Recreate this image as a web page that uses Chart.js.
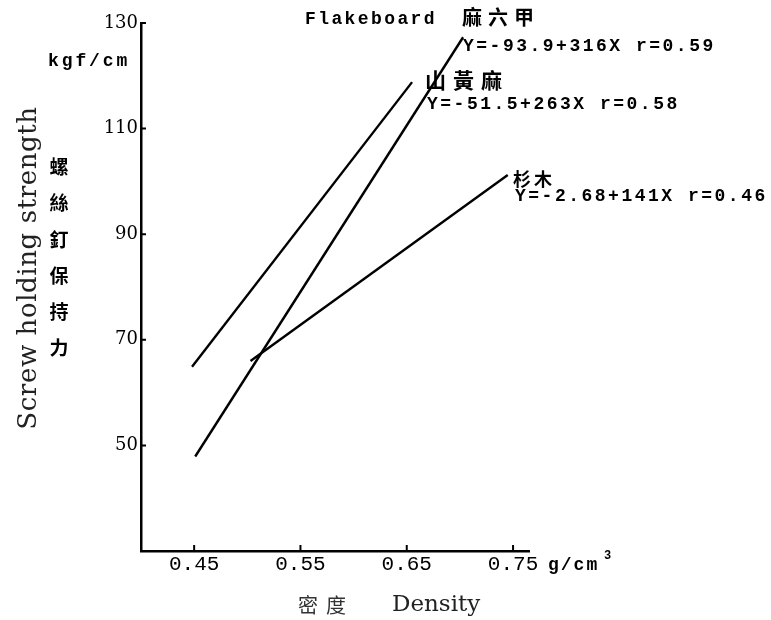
<!DOCTYPE html>
<html><head><meta charset="utf-8">
<script src="https://cdn.jsdelivr.net/npm/chart.js@4.4.1/dist/chart.umd.min.js"></script>
<style>html,body{margin:0;padding:0;background:#fff}#wrap{width:771px;height:620px;position:relative}</style>
</head><body><div id="wrap"><canvas id="c" width="771" height="620"></canvas></div>
<script>
// ---- data ----
const seriesNames = ['麻六甲', '山黃麻', '杉木'];
const malaccaX = [0.451, 0.703];   // 麻六甲
const malaccaY = [47.9, 127.3];
const tremaX = [0.448, 0.655];     // 山黃麻
const tremaY = [64.9, 118.8];
const firX = [0.503, 0.745];       // 杉木
const firY = [66.0, 101.2];
const equations = ['Y=-93.9+316X r=0.59', 'Y=-51.5+263X r=0.58', 'Y=-2.68+141X r=0.46'];
const xTicks = [0.45, 0.55, 0.65, 0.75];
const yTicks = [50, 70, 90, 110, 130];
const yTitleEn = 'Screw holding strength';
const yTitleZh = '螺絲釘保持力';
const yUnit = 'kgf/cm';
const xTitleZh = '密度';
const xTitleEn = 'Density';
const xUnit = 'g/cm';
const header = 'Flakeboard';

const pts = (xs, ys) => xs.map((x, i) => ({x, y: ys[i]}));
const CJK = '"Noto Sans CJK TC","Noto Sans CJK SC",sans-serif';
const MONO = '"Liberation Mono","DejaVu Sans Mono",monospace';
const SERIF = '"DejaVu Serif","Liberation Serif",serif';

function txt(ctx, s, x, y, font, spacing, align, color) {
  ctx.save();
  ctx.font = font;
  ctx.fillStyle = color || '#000';
  try { ctx.letterSpacing = (spacing || 0) + 'px'; } catch (e) {}
  ctx.textAlign = align || 'left';
  ctx.textBaseline = 'middle';
  ctx.fillText(s, x, y);
  ctx.restore();
}

const decor = {
  id: 'decor',
  afterDraw(chart) {
    const ctx = chart.ctx;
    const a = chart.chartArea;
    const xs = chart.scales.x, ys = chart.scales.y;
    // inner tick marks
    ctx.save();
    ctx.strokeStyle = '#000';
    ctx.lineWidth = 2;
    ctx.beginPath();
    yTicks.forEach(v => { const p = ys.getPixelForValue(v); ctx.moveTo(a.left, p); ctx.lineTo(a.left + 5, p); });
    xTicks.forEach(v => { const p = xs.getPixelForValue(v); ctx.moveTo(p, a.bottom); ctx.lineTo(p, a.bottom - 6); });
    ctx.stroke();
    ctx.restore();

    const eqFont = 'bold 18px ' + MONO;
    // header
    txt(ctx, header, 305, 19, eqFont, 2.4);
    txt(ctx, seriesNames[0], 462, 17, 'bold 20px ' + CJK, 6);
    txt(ctx, equations[0], 463, 46, eqFont, 2.5);
    txt(ctx, seriesNames[1], 425, 80, 'bold 21px ' + CJK, 7);
    txt(ctx, equations[1], 427, 104, eqFont, 2.5);
    txt(ctx, seriesNames[2], 513, 179, 'bold 18px ' + CJK, 3);
    txt(ctx, equations[2], 515, 196, eqFont, 2.5);

    // y axis unit and titles
    txt(ctx, yUnit, 48, 61, eqFont, 2.9);
    ctx.save();
    ctx.translate(29, 268);
    ctx.rotate(-Math.PI / 2);
    txt(ctx, yTitleEn, 0, 0, '26px ' + SERIF, 0.6, 'center', '#222');
    ctx.restore();
    [...yTitleZh].forEach((ch, i) => txt(ctx, ch, 59, 167 + i * 36.2, 'bold 19px ' + CJK, 0, 'center'));

    // x axis unit and title
    txt(ctx, xUnit, 548, 565, eqFont, 2);
    txt(ctx, '3', 604, 556, 'bold 12px ' + MONO, 0);
    txt(ctx, xTitleZh, 298, 605, '20px ' + CJK, 8, 'left', '#333');
    txt(ctx, xTitleEn, 392, 605, '23px ' + SERIF, 0, 'left', '#222');
  }
};

const lineDs = (label, data) => ({
  label, data, showLine: true, borderColor: '#000', borderWidth: 2.4,
  pointRadius: 0, fill: false, tension: 0, clip: false
});

new Chart(document.getElementById('c'), {
  type: 'scatter',
  data: {
    datasets: [
      lineDs(seriesNames[0], pts(malaccaX, malaccaY)),
      lineDs(seriesNames[1], pts(tremaX, tremaY)),
      lineDs(seriesNames[2], pts(firX, firY))
    ]
  },
  options: {
    responsive: false,
    animation: false,
    devicePixelRatio: 1,
    layout: { padding: { left: 0, right: 242, top: 23, bottom: 0 } },
    plugins: { legend: { display: false }, tooltip: { enabled: false } },
    scales: {
      x: {
        type: 'linear', min: 0.40, max: 0.765,
        afterBuildTicks: s => { s.ticks = xTicks.map(v => ({value: v})); },
        afterFit: s => { s.height = 69; },
        ticks: { color: '#000', padding: 1, font: { family: MONO, size: 21 }, callback: v => v.toFixed(2) },
        grid: { display: true, color: 'rgba(0,0,0,0)', drawOnChartArea: false, drawTicks: false },
        border: { display: true, color: '#000', width: 2.5 }
      },
      y: {
        type: 'linear', min: 30, max: 130,
        afterBuildTicks: s => { s.ticks = yTicks.map(v => ({value: v})); },
        afterFit: s => { s.width = 141; },
        ticks: { color: '#000', padding: 3, font: { family: SERIF, size: 18 } },
        grid: { display: true, color: 'rgba(0,0,0,0)', drawOnChartArea: false, drawTicks: false },
        border: { display: true, color: '#000', width: 2.5 }
      }
    }
  },
  plugins: [decor]
});
</script>
</body></html>
